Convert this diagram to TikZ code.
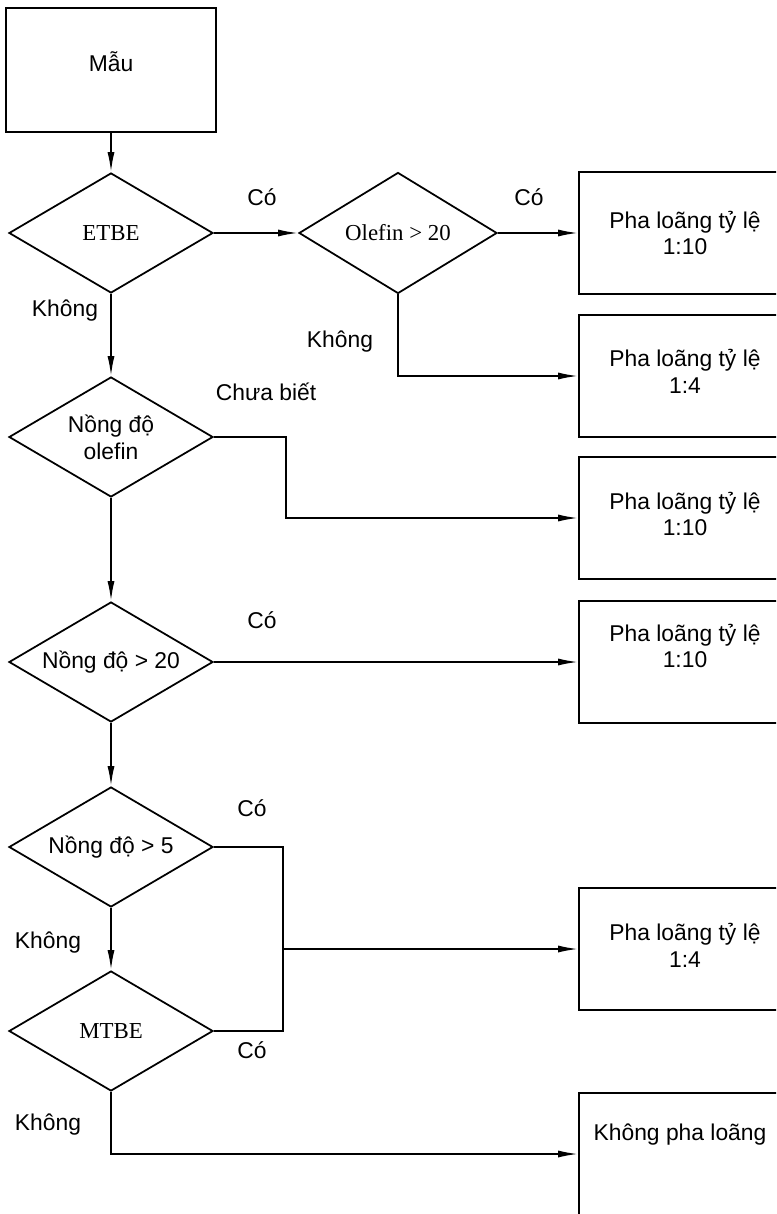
\documentclass[tikz,border=0pt]{standalone}
\usepackage{fontspec}
\setmainfont{Liberation Sans}
\newfontfamily\timesf{Liberation Serif}
\usetikzlibrary{shapes.geometric,arrows.meta}
\tikzset{
  hop/.style={diamond,draw,aspect=1.7,inner sep=0pt,align=center,minimum width=6.12cm,minimum height=3.6cm},
  bx/.style={draw,minimum width=6.36cm,minimum height=3.68cm},
  bxtext/.style={align=center}
}
\begin{document}
\begin{tikzpicture}[x=0.03cm,y=-0.03cm,line width=1.5pt,>={Latex[length=17pt,width=6pt]},
  every node/.style={font=\fontsize{19.5}{23}\selectfont}]
\useasboundingbox (0,0) rectangle (776,1214);
\clip (0,0) rectangle (776,1214);
\node[draw,minimum width=6.3cm,minimum height=3.72cm] (mau) at (111,70) {};
\node (maut) at (111,62) {Mẫu};
\node[hop] (etbe) at (111,233) {\timesf ETBE};
\node[hop,minimum width=5.94cm,minimum height=3.63cm] (olef) at (398,233) {\timesf Olefin > 20};
\node[hop] (nol) at (111,437) {Nồng độ\\olefin};
\node[hop] (n20) at (111,662) {Nồng độ > 20};
\node[hop] (n5) at (111,847) {Nồng độ > 5};
\node[hop] (mtbe) at (111,1031) {\timesf MTBE};
\node[bx] (b1) at (685,233) {};
\node[bx] (b2) at (685,376) {};
\node[bx] (b3) at (685,518) {};
\node[bx] (b4) at (685,662) {};
\node[bx] (b5) at (685,949) {};
\node[bx] (b6) at (685,1154) {};
\node[bxtext] (t1) at (685,233) {Pha loãng tỷ lệ\\1:10};
\node[bxtext] (t2) at (685,371) {Pha loãng tỷ lệ\\1:4};
\node[bxtext] (t3) at (685,514) {Pha loãng tỷ lệ\\1:10};
\node[bxtext] (t4) at (685,646) {Pha loãng tỷ lệ\\1:10};
\node[bxtext] (t5) at (685,945) {Pha loãng tỷ lệ\\1:4};
\node[bxtext] (t6) at (680,1135) {Không pha loãng};
\coordinate (j) at (283,949);
\draw[->] (mau) -- (etbe);
\draw[->] (etbe) -- (olef);
\draw[->] (olef) -- (b1);
\draw[->] (olef) |- (b2);
\draw[->] (etbe) -- (nol);
\draw[->] (nol.east) -- ++(72,0) |- (b3);
\draw[->] (nol) -- (n20);
\draw[->] (n20) -- (b4);
\draw[->] (n20) -- (n5);
\draw[->] (n5) -- (mtbe);
\draw (n5.east) -| (j) |- (mtbe.east);
\draw[->] (j) -- (b5);
\draw[->] (mtbe) |- (b6);
\node (co1) at (262,197) {Có};
\node (co2) at (529,197) {Có};
\node (kh1) at (65,311) {Không};
\node (kh2) at (340,342) {Không};
\node (cb) at (266,392) {Chưa biết};
\node (co3) at (262,620) {Có};
\node (co4) at (252,808) {Có};
\node (kh3) at (48,943) {Không};
\node (co5) at (252,1050) {Có};
\node (kh4) at (48,1125) {Không};
\end{tikzpicture}
\end{document}
